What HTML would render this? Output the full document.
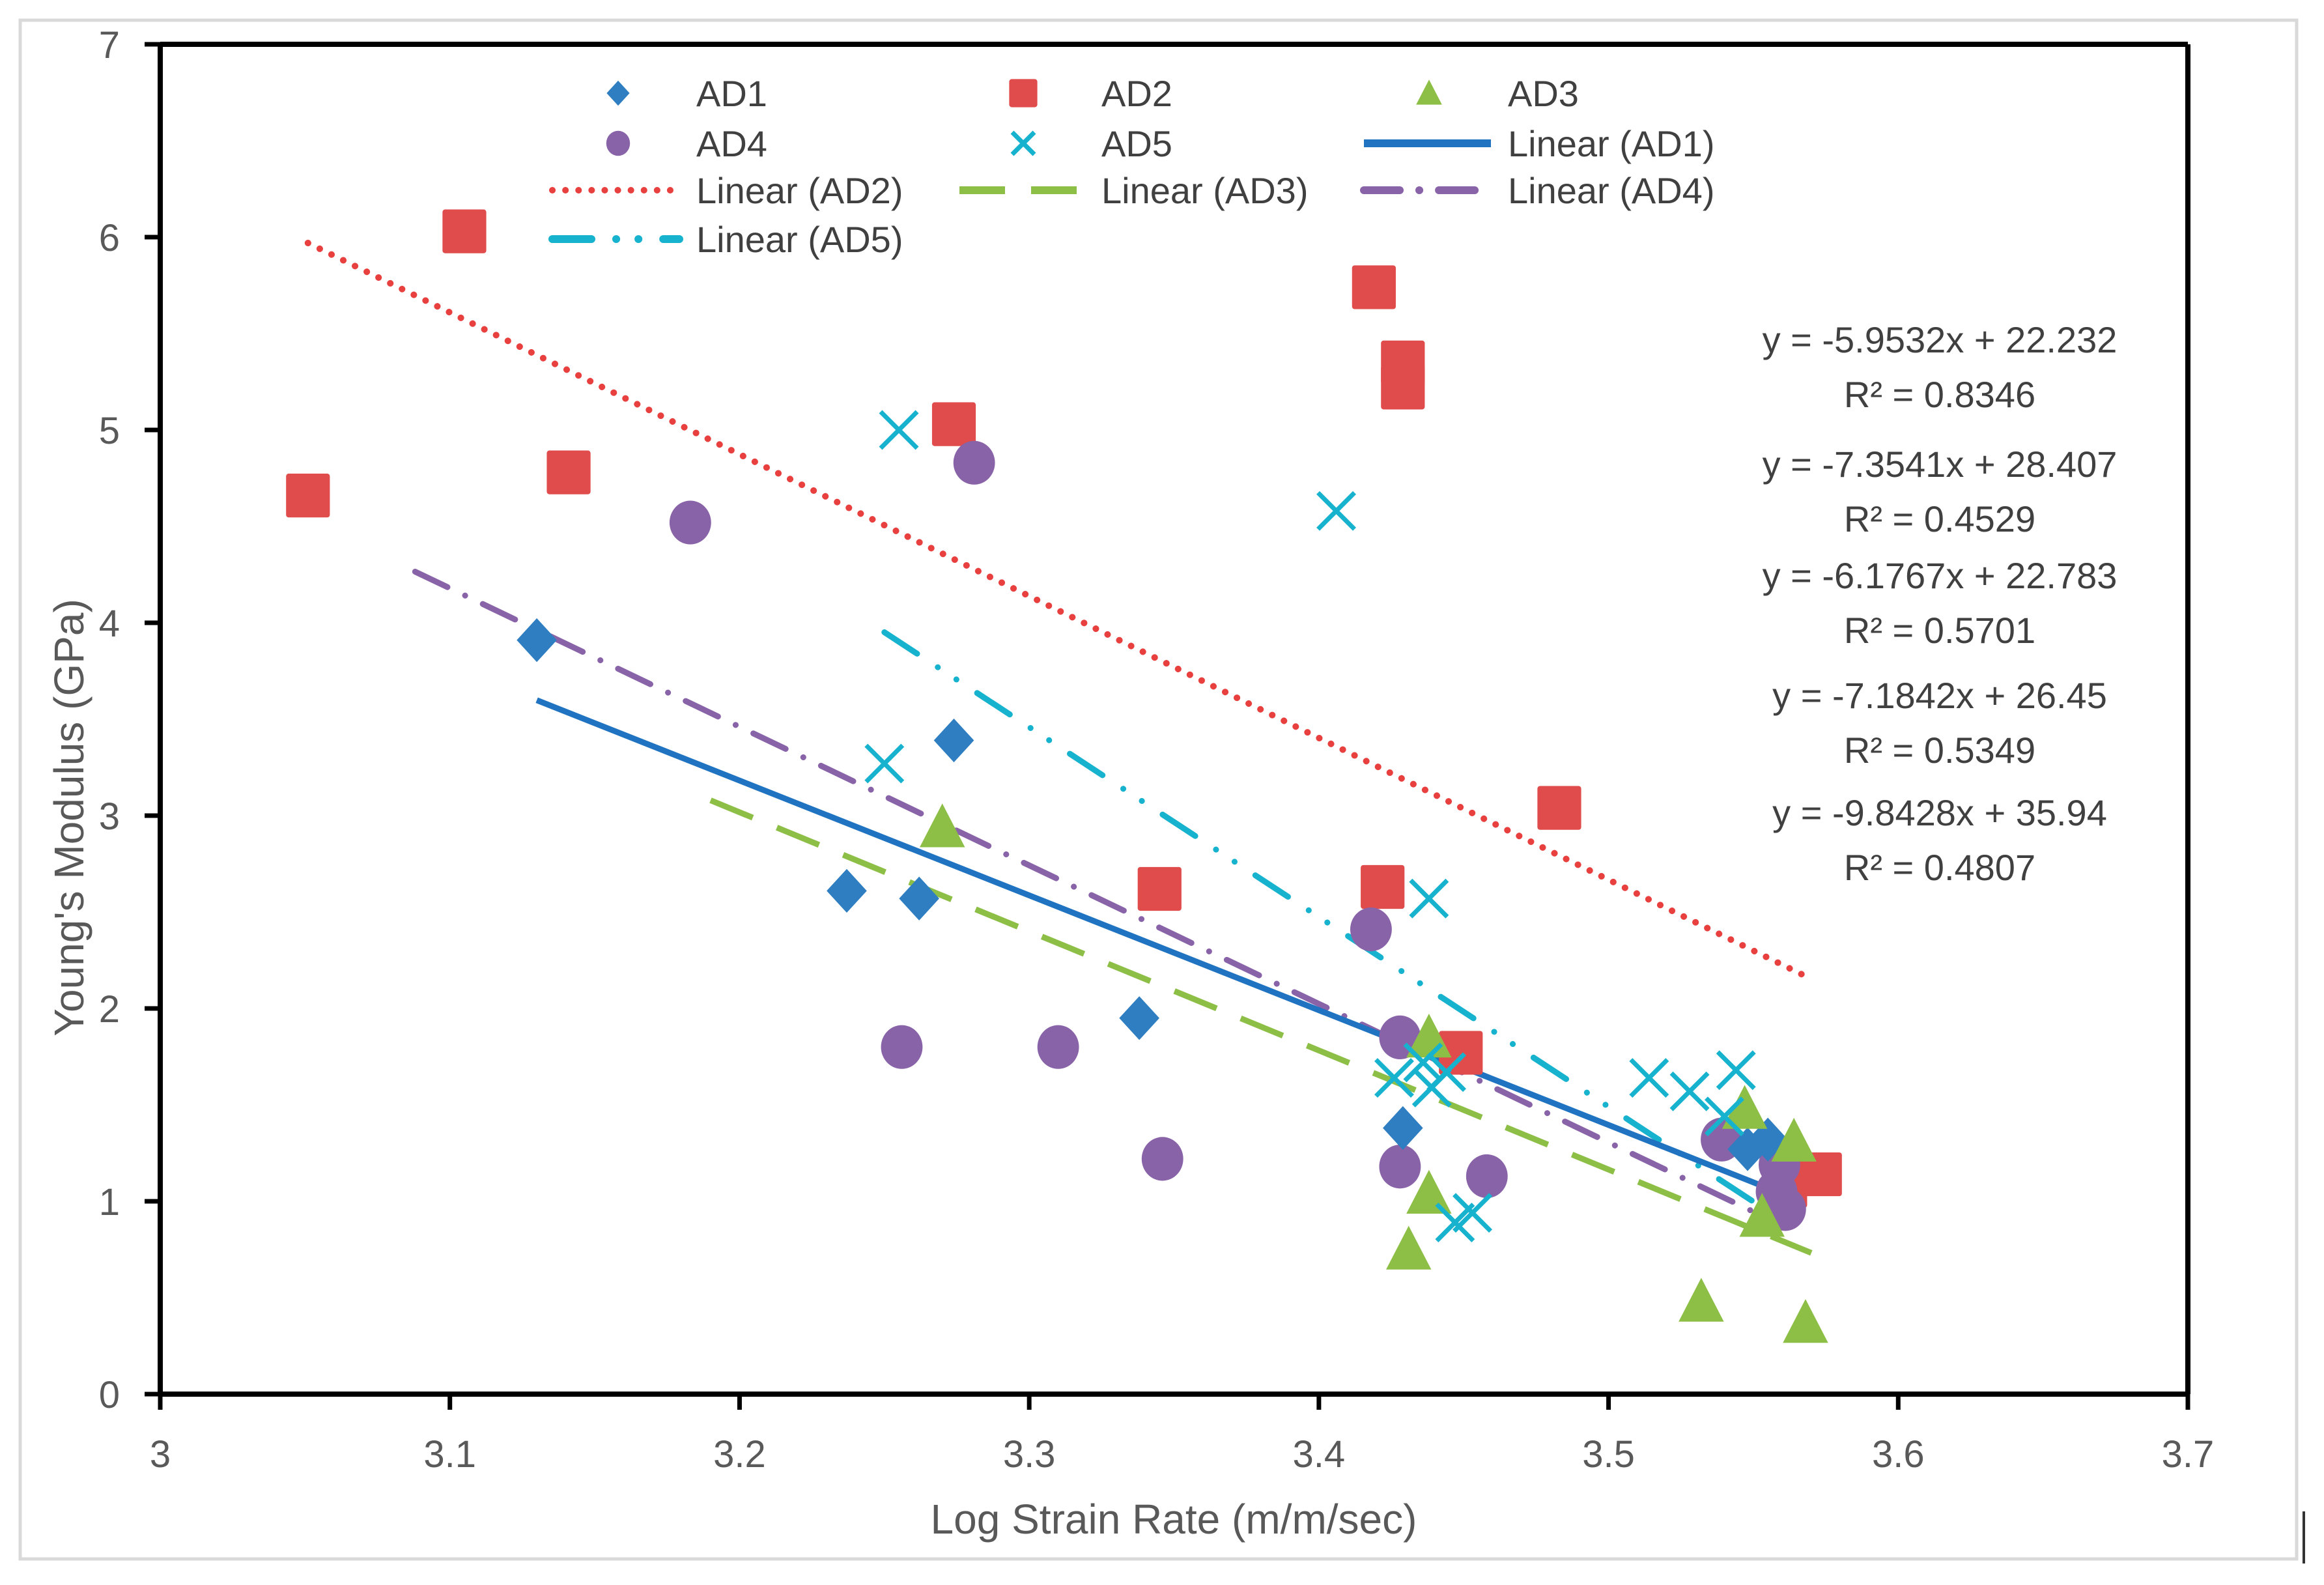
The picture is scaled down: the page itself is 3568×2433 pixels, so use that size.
<!DOCTYPE html>
<html><head><meta charset="utf-8"><style>
html,body{margin:0;padding:0;background:#fff;}
svg{display:block;font-family:"Liberation Sans",sans-serif;}
</style></head><body>
<svg id="chart" width="3568" height="2433" viewBox="0 0 3568 2433" xmlns="http://www.w3.org/2000/svg">
<rect x="0" y="0" width="3568" height="2433" fill="#fff"/>
<rect x="31" y="31" width="3495" height="2362" fill="none" stroke="#d9d9d9" stroke-width="5"/>
<line x1="3537" y1="2320" x2="3537" y2="2400" stroke="#333" stroke-width="4"/>
<g id="axes"></g>
<g id="lines"></g>
<g id="points"></g>
<g id="legend"></g>
<g id="eqs"></g>
</svg>
<script>
const xTicks=[3,3.1,3.2,3.3,3.4,3.5,3.6,3.7];
const xTickLabels=["3","3.1","3.2","3.3","3.4","3.5","3.6","3.7"];
const yTicks=[0,1,2,3,4,5,6,7];
const yTickLabels=["0","1","2","3","4","5","6","7"];
const seriesNames=["AD1","AD2","AD3","AD4","AD5"];
const ad1X=[3.130,3.237,3.262,3.274,3.338,3.429,3.555,3.548];
const ad1Y=[3.91,2.61,2.57,3.39,1.95,1.38,1.32,1.27];
const ad2X=[3.051,3.105,3.141,3.274,3.419,3.429,3.429,3.345,3.422,3.483,3.449,3.573,3.561];
const ad2Y=[4.66,6.03,4.78,5.03,5.74,5.35,5.22,2.62,2.63,3.04,1.77,1.14,1.08];
const ad3X=[3.270,3.438,3.438,3.431,3.532,3.547,3.564,3.568,3.553];
const ad3Y=[2.94,1.85,1.04,0.75,0.48,1.48,1.31,0.37,0.92];
const ad4X=[3.183,3.281,3.256,3.310,3.346,3.418,3.428,3.428,3.458,3.539,3.559,3.561,3.558];
const ad4Y=[4.52,4.83,1.80,1.80,1.22,2.41,1.85,1.18,1.13,1.32,1.19,0.96,1.05];
const ad5X=[3.255,3.250,3.406,3.438,3.426,3.436,3.439,3.444,3.447,3.453,3.514,3.528,3.544,3.540];
const ad5Y=[5.00,3.27,4.58,2.57,1.64,1.72,1.59,1.67,0.89,0.94,1.64,1.57,1.68,1.44];
const fitSlopes=[-5.9532,-7.3541,-6.1767,-7.1842,-9.8428];
const fitIntercepts=[22.232,28.407,22.783,26.45,35.94];
const fitXStart=[3.130,3.051,3.190,3.088,3.250];
const fitXEnd=[3.557,3.570,3.570,3.560,3.555];
const eqTexts=["y = -5.9532x + 22.232","R² = 0.8346","y = -7.3541x + 28.407","R² = 0.4529","y = -6.1767x + 22.783","R² = 0.5701","y = -7.1842x + 26.45","R² = 0.5349","y = -9.8428x + 35.94","R² = 0.4807"];

const NS="http://www.w3.org/2000/svg";
const X0=246,X1=3359,Y0=2140,Y1=68;
const xs=v=>X0+(v-3)/0.7*(X1-X0);
const ys=v=>Y0-v/7*(Y0-Y1);
function mk(tag,attrs,parent){const e=document.createElementNS(NS,tag);for(const k in attrs)e.setAttribute(k,attrs[k]);parent.appendChild(e);return e;}
const colors=["#2E7EC1","#E04B4B","#8DBF47","#8963A8","#17B3CE"];
const lineColors=["#1F73C0","#E8403F","#8DBF47","#8963A8","#17B3CE"];
const dashes=["none","0.1 20","70 40","55 30 0.1 30","60 38 0.1 34 0.1 38"];
const lineCaps=["butt","round","butt","round","round"];

const axes=document.getElementById('axes');
let a=mk('line',{x1:X0,y1:Y0,x2:X1,y2:Y0,stroke:'#000','stroke-width':8},axes);

a=mk('line',{x1:X0,y1:Y0,x2:X0,y2:Y1,stroke:'#000','stroke-width':8},axes);

a=mk('line',{x1:X0,y1:Y1,x2:X1,y2:Y1,stroke:'#000','stroke-width':8},axes);

a=mk('line',{x1:X1,y1:Y0,x2:X1,y2:Y1,stroke:'#000','stroke-width':8},axes);

xTicks.forEach((v,i)=>{
  const t=mk('line',{x1:xs(v),y1:Y0,x2:xs(v),y2:Y0+24,stroke:'#000','stroke-width':7},axes);
  
  const l=mk('text',{x:xs(v),y:Y0+112,'text-anchor':'middle','font-size':58,fill:'#595959'},axes);
  l.textContent=xTickLabels[i];
  
});
yTicks.forEach((v,i)=>{
  const t=mk('line',{x1:X0-24,y1:ys(v),x2:X0,y2:ys(v),stroke:'#000','stroke-width':7},axes);
  
  const l=mk('text',{x:X0-62,y:ys(v)+21,'text-anchor':'end','font-size':58,fill:'#595959'},axes);
  l.textContent=yTickLabels[i];
  
});
let xt=mk('text',{x:1802,y:2354,'text-anchor':'middle','font-size':64,fill:'#595959'},axes);
xt.textContent='Log Strain Rate (m/m/sec)';

let yt=mk('text',{x:0,y:0,'text-anchor':'middle','font-size':64,fill:'#595959',transform:'translate(128,1255) rotate(-90)'},axes);
yt.textContent="Young's Modulus (GPa)";


const lines=document.getElementById('lines');
for(let i=4;i>=0;i--){
  const xa=fitXStart[i],xb=fitXEnd[i];
  const ya=fitSlopes[i]*xa+fitIntercepts[i],yb=fitSlopes[i]*xb+fitIntercepts[i];
  const ln=mk('line',{x1:xs(xa),y1:ys(ya),x2:xs(xb),y2:ys(yb),stroke:lineColors[i],'stroke-width':i==1?10:9,'stroke-dasharray':dashes[i],'stroke-linecap':lineCaps[i]},lines);
  
  
}

function marker(type,cx,cy,s,parent){
  let e;
  if(type===0){e=mk('polygon',{points:`${cx},${cy-s*0.6} ${cx+s*0.55},${cy} ${cx},${cy+s*0.6} ${cx-s*0.55},${cy}`,fill:colors[0]},parent);}
  else if(type===1){e=mk('rect',{x:cx-s*0.6,y:cy-s*0.6,width:s*1.2,height:s*1.2,rx:4,fill:colors[1]},parent);}
  else if(type===2){e=mk('polygon',{points:`${cx},${cy-s*0.65} ${cx+s*0.62},${cy+s*0.55} ${cx-s*0.62},${cy+s*0.55}`,fill:colors[2]},parent);}
  else if(type===3){e=mk('ellipse',{cx:cx,cy:cy,rx:s*0.57,ry:s*0.6,fill:colors[3]},parent);}
  else {e=mk('path',{d:`M${cx-s*0.5},${cy-s*0.5}L${cx+s*0.5},${cy+s*0.5}M${cx+s*0.5},${cy-s*0.5}L${cx-s*0.5},${cy+s*0.5}`,stroke:colors[4],'stroke-width':7,fill:'none'},parent);}
  return e;
}
const pts=document.getElementById('points');
const allX=[ad1X,ad2X,ad3X,ad4X,ad5X],allY=[ad1Y,ad2Y,ad3Y,ad4Y,ad5Y];
[1,3,0,2,4].forEach(si=>{
  allX[si].forEach((xv,j)=>{
    const m=marker(si,xs(xv),ys(allY[si][j]),56,pts);
    
    
  });
});

const lg=document.getElementById('legend');
const mkX=[949,1571,2194],txX=[1069,1691,2315],rowY=[143,220,292,367];
for(let i=0;i<5;i++){
  const r=Math.floor(i/3),c=i%3;
  const m=marker(i,mkX[c],rowY[r],i==4?34:i==1?36:32,lg);
  
  
  const t=mk('text',{x:txX[c],y:rowY[r]+20,'font-size':56,fill:'#404040'},lg);
  t.textContent=seriesNames[i];
  
  
}
const lineSlots=[[1,2],[2,0],[2,1],[2,2],[3,0]];
const lineStart=[848,1473,2094];
for(let i=0;i<5;i++){
  const r=lineSlots[i][0],c=lineSlots[i][1];
  const ln=mk('line',{x1:lineStart[c],y1:rowY[r],x2:lineStart[c]+195,y2:rowY[r],stroke:lineColors[i],'stroke-width':i==1?10:12,'stroke-dasharray':dashes[i],'stroke-linecap':lineCaps[i]},lg);
  
  
  const t=mk('text',{x:txX[c],y:rowY[r]+20,'font-size':56,fill:'#404040'},lg);
  t.textContent='Linear ('+seriesNames[i]+')';
  
  
}

const eg=document.getElementById('eqs');
const eqY=[521,605,712,796,883,967,1067,1151,1247,1331];
eqTexts.forEach((s,i)=>{
  const t=mk('text',{x:2978,y:eqY[i]+20,'text-anchor':'middle','font-size':56,fill:'#404040'},eg);
  t.textContent=s;
  
  
});
</script>
</body></html>
